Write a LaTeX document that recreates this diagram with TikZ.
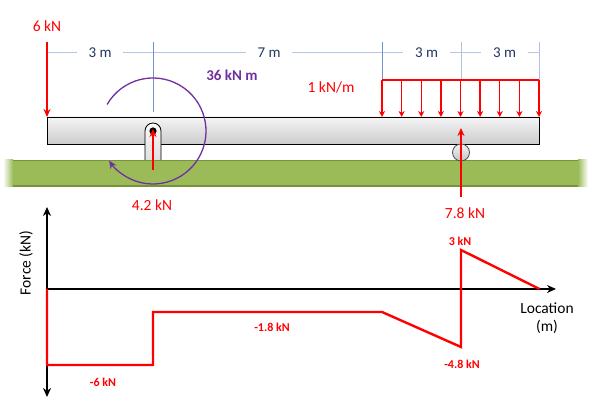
\documentclass[tikz,border=0pt]{standalone}
\usepackage{fontspec}
\setmainfont{Carlito}
\usepackage{xcolor}
\usepackage{tikz}
\usetikzlibrary{positioning,calc,arrows.meta}

\definecolor{loadred}{HTML}{FF0000}
\definecolor{momentpurple}{HTML}{7030A0}
\definecolor{dimblue}{HTML}{B4C7E7}
\definecolor{tickblue}{HTML}{6F95CC}
\definecolor{labelblue}{HTML}{1F3864}
\definecolor{groundgreen}{HTML}{9BBB59}
\definecolor{grounddark}{HTML}{77933C}

\tikzset{
  force/.style={draw=loadred, line width=1.6pt, -{Stealth[length=8pt,width=7pt]}},
  udl/.style={draw=loadred, line width=1.3pt, -{Stealth[length=6pt,width=6pt]}},
  dimline/.style={draw=dimblue, line width=1pt},
  dimtick/.style={draw=tickblue, line width=0.8pt},
  dimlabel/.style={text=labelblue, fill=white, inner xsep=12pt, inner ysep=1pt, font=\fontsize{15}{18}\selectfont},
  forcelabel/.style={text=loadred, font=\fontsize{15.5}{18}\selectfont},
  shearlabel/.style={text=loadred, font=\fontsize{12}{14}\selectfont\bfseries},
  axis/.style={draw=black, line width=2.2pt},
  shear/.style={draw=loadred, line width=2.4pt, line join=miter}
}

\begin{document}
\begin{tikzpicture}[x=1pt,y=1pt]
    \useasboundingbox (0,0) rectangle (600,403);

    % Ground
    \fill[groundgreen] (13,216) rectangle (578,243);
    \shade[left color=white, right color=groundgreen] (3,216) rectangle (13,243);
    \shade[left color=groundgreen, right color=white] (578,216) rectangle (588,243);
    \fill[grounddark] (13,241.5) rectangle (578,243);
    \fill[grounddark] (13,216) rectangle (578,217.5);

    % Beam
    \coordinate (beamBL) at (47,259);
    \coordinate (beamTR) at (539,286);
    \draw[black, line width=0.8pt, top color=gray!8, bottom color=gray!40] (beamBL) rectangle (beamTR);

    % Pin support (slot)
    \draw[black, line width=0.8pt, top color=gray!5, bottom color=gray!25]
        (145,243) -- (145,272) arc[start angle=180, end angle=0, radius=8] -- (161,243);
    \fill[black] (153,272) circle[radius=3.6];

    % Roller support
    \draw[gray!60!black, line width=0.8pt, top color=gray!10, bottom color=gray!45] (461,250.5) circle[radius=8.5];

    % Dimensions
    \draw[dimline] (47,350) -- (539,350);
    \draw[dimtick] (153,361) -- (153,291);
    \draw[dimtick] (382,361) -- (382,323);
    \draw[dimtick, draw=dimblue!90!tickblue] (461,361) -- (461,323);
    \draw[dimtick, draw=dimblue!90!tickblue] (539,361) -- (539,323);
    \node[dimlabel] (d1) at (100,350) {3 m};
    \node[dimlabel] (d2) at (269,350) {7 m};
    \node[dimlabel] (d3) at (426.5,350) {3 m};
    \node[dimlabel] (d4) at (504.5,350) {3 m};

    % Point load at left end
    \coordinate (p6) at (47,361);
    \draw[force] (p6) -- (47,286);
    \node[forcelabel] (l6) at (47,377) {6 kN};

    % Distributed load
    \coordinate (udlL) at (382,323);
    \coordinate (udlR) at (539,323);
    \draw[draw=loadred, line width=1.3pt] (udlL) -- (udlR);
    \foreach \i in {0,...,8} {
        \draw[udl] ($(udlL)!\i/8!(udlR)$) -- ++(0,-37);
    }
    \node[forcelabel] (lq) at (331,316) {1 kN/m};

    % Applied moment
    \coordinate (mc) at (153,272);
    \draw[momentpurple, line width=1.3pt, -{Stealth[length=8pt,width=7pt]}]
        ($(mc)+(150:53)$) arc[start angle=150, end angle=-146, radius=53];
    \node[text=momentpurple, font=\fontsize{15}{18}\selectfont\bfseries] (lm) at (232,328) {36 kN m};

    % Reactions
    \coordinate (rA) at (153,233);
    \draw[force] (rA) -- (153,274);
    \node[forcelabel] (lA) at (152,198) {4.2 kN};
    \coordinate (rB) at (461,206);
    \draw[force] (rB) -- (461,275);
    \node[forcelabel] (lB) at (465,190) {7.8 kN};

    % Shear diagram axes
    \coordinate (o) at (47,114);
    \draw[axis, {Stealth[length=9pt,width=8pt]}-{Stealth[length=9pt,width=8pt]}] (47,6) -- (47,196);
    \draw[axis, -{Stealth[length=9pt,width=8pt]}] (o) -- (556,114);
    \node[rotate=90, font=\fontsize{15.5}{18}\selectfont] (fy) at (26,140) {Force (kN)};
    \node[align=center, font=\fontsize{15.5}{18}\selectfont] (lx) at (547,85) {Location\\(m)};

    % Shear force
    \draw[shear] (o) -- (47,38) -- (153,38) -- (153,91) -- (382,91) -- (461,56) -- (461,153) -- (539.5,114);
    \node[shearlabel] (s1) at (103,21) {-6 kN};
    \node[shearlabel] (s2) at (272,76) {-1.8 kN};
    \node[shearlabel] (s3) at (460,162) {3 kN};
    \node[shearlabel] (s4) at (462,39) {-4.8 kN};
\end{tikzpicture}
\end{document}
